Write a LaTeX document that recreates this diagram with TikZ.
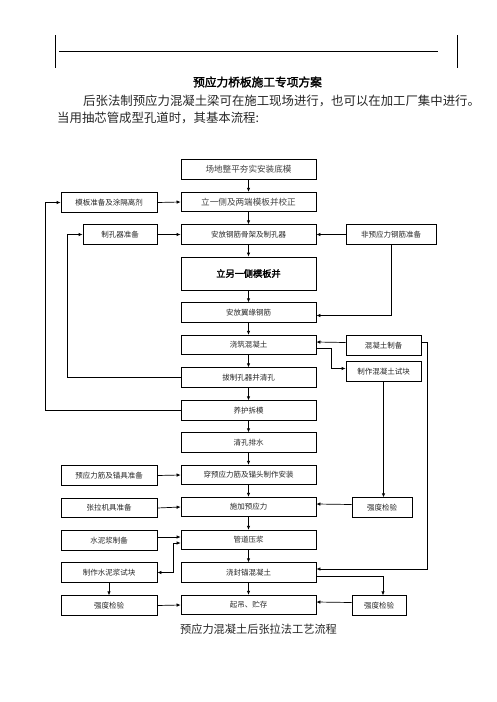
\documentclass[tikz,border=0pt]{standalone}
\usepackage{fontspec}
\usetikzlibrary{arrows.meta}
\newfontfamily\cjk{Noto Sans CJK SC}
\newfontfamily\cjkb[FakeBold=2]{Noto Sans CJK SC}
\begin{document}
\begin{tikzpicture}[x=1pt,y=-1pt,
  ln/.style={line width=0.7pt},
  arr/.style={line width=0.7pt,-{Latex[length=4pt,width=3.5pt]}},
  arrboth/.style={line width=0.7pt,{Latex[length=4pt,width=3.5pt]}-{Latex[length=4pt,width=3.5pt]}},
  box/.style={draw,line width=0.7pt,rectangle,inner sep=0pt,minimum height=19.5pt,text=black!85,font=\cjk\fontsize{7.5}{9}\selectfont},
  cbox/.style={box,minimum width=135pt},
  sbox/.style={cbox,font=\cjk\fontsize{8.6}{10}\selectfont,text=black!75},
  lbox/.style={box,minimum width=96pt}
]
\useasboundingbox (0,0) rectangle (496,702);
% header
\draw[ln] (55,35) -- (55,68);
\draw[ln] (457,35) -- (457,68);
\draw[ln] (59,51) -- (438,51);
\node[font=\cjkb\fontsize{11.7}{13}\selectfont] (title) at (257.5,82) {预应力桥板施工专项方案};
\node[anchor=west,inner sep=0pt,font=\cjk\fontsize{12.4}{14}\selectfont,text=black!85] (p1) at (83,101) {后张法制预应力混凝土梁可在施工现场进行，也可以在加工厂集中进行。};
\node[anchor=west,inner sep=0pt,font=\cjk\fontsize{12.4}{14}\selectfont,text=black!85] (p2) at (57,118) {当用抽芯管成型孔道时，其基本流程:};

% central column
\node[sbox] (c1) at (248.5,169.5) {场地整平夯实安装底模};
\node[sbox] (c2) at (248.5,202) {立一侧及两端模板并校正};
\node[cbox] (c3) at (248.5,234.5) {安放钢筋骨架及制孔器};
\node[cbox,minimum height=33pt,font=\cjkb\fontsize{9.2}{11}\selectfont,text=black] (c4) at (248.5,273.5) {立另一侧模板并};
\node[cbox] (c5) at (248.5,312.5) {安放翼缘钢筋};
\node[cbox] (c6) at (248.5,345) {浇筑混凝土};
\node[cbox] (c7) at (248.5,377.5) {拔制孔器并清孔};
\node[cbox] (c8) at (248.5,410.5) {养护拆模};
\node[cbox] (c9) at (248.5,442.5) {清孔排水};
\node[cbox] (c10) at (248.5,475) {穿预应力筋及锚头制作安装};
\node[cbox] (c11) at (248.5,507) {施加预应力};
\node[cbox] (c12) at (248.5,540) {管道压浆};
\node[cbox] (c13) at (248.5,572.5) {浇封锚混凝土};
\node[cbox] (c14) at (248.5,605) {起吊、贮存};

% left column
\node[lbox] (L1) at (109,202.5) {模板准备及涂隔离剂};
\node[box,minimum width=74pt] (L2) at (120,234.5) {制孔器准备};
\node[lbox] (L3) at (109,475.5) {预应力筋及锚具准备};
\node[lbox] (L4) at (109,508) {张拉机具准备};
\node[lbox] (L5) at (109,540.5) {水泥浆制备};
\node[lbox] (L6) at (109,572.5) {制作水泥浆试块};
\node[lbox] (L7) at (109,605.5) {强度检验};

% right column
\node[box,minimum width=90pt] (R1) at (391,234.5) {非预应力钢筋准备};
\node[box,minimum width=75pt] (R2) at (383.5,345.5) {混凝土制备};
\node[box,minimum width=75pt] (R3) at (383.5,371.5) {制作混凝土试块};
\node[box,minimum width=60pt] (R4) at (382,507.5) {强度检验};
\node[box,minimum width=54pt] (R5) at (379,605.5) {强度检验};

% caption
\node[font=\cjk\fontsize{11.2}{13}\selectfont,text=black!85] (cap) at (258.5,629) {预应力混凝土后张拉法工艺流程};

% central arrows
\foreach \a/\b in {c1/c2,c2/c3,c3/c4,c4/c5,c5/c6,c6/c7,c7/c8,c8/c9,c9/c10,c10/c11,c11/c12,c12/c13,c13/c14}
  \draw[arr] (\a.south) -- (\b.north);

% left connectors
\draw[arr] (L1.east) -- (c2.west);
\draw[arr] (L2.east) -- (c3.west);
\draw[arr] (c8.west) -| ([xshift=-15pt]L1.west) -- (L1.west);
\draw[arr] (c7.west) -| ([xshift=-15pt]L2.west) -- (L2.west);
\draw[arr] (L3.east) -- (c10.west);
\draw[arr] (L4.east) -- (c11.west);
\draw[arr] (L5.east |- 0,537) -- ([yshift=3pt]c12.west);
\draw[arrboth] (L6.east) -- ++(16,0) |- ([yshift=-3pt]c12.west);
\draw[arr] (L6.south) -- (L7.north);
\draw[arr] (L7.east) -- (c14.west);

% right connectors
\draw[arr] (R1.west) -- (c3.east);
\draw[arr] (R1.south) |- ([yshift=-3pt]c5.east);
\draw[arr] ([yshift=3pt]R2.west) -- ([yshift=3pt]c6.east);
\draw[arr] ([yshift=-3pt]c6.east) -- ++(15,0) |- ([yshift=3pt]R3.west);
\draw[arr] ([yshift=3pt]R2.east) -- ++(6,0) |- ([yshift=3.5pt]c13.east);
\draw[arr] (R3.south) -- (R3.south |- R4.north);
\draw[arr] ([yshift=3pt]R4.west) -- ([yshift=3pt]c11.east);
\draw[arr] ([yshift=-3.5pt]c13.east) -| ([xshift=4pt]R5.north);
\draw[arr] ([yshift=3pt]R5.west) -- ([yshift=3pt]c14.east);
\end{tikzpicture}
\end{document}
